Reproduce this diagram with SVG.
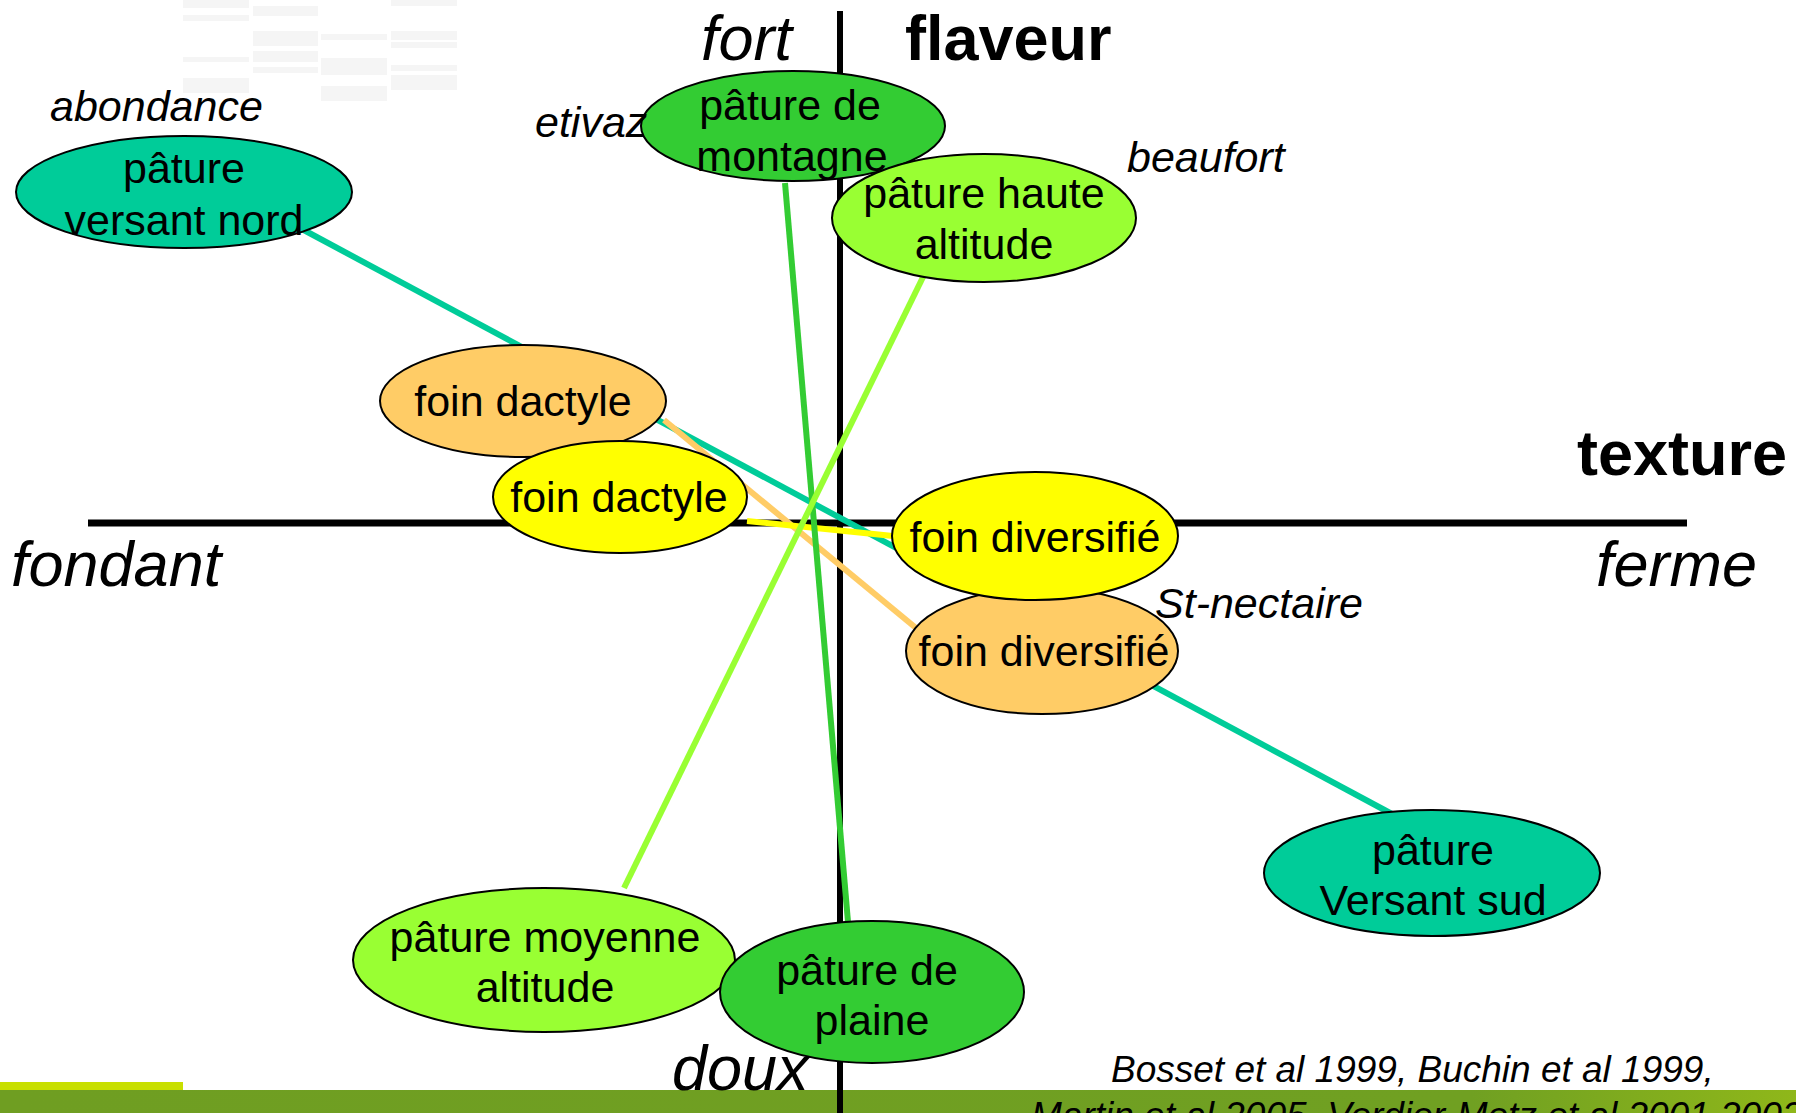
<svg xmlns="http://www.w3.org/2000/svg" width="1796" height="1113" viewBox="0 0 1796 1113">
<style>
.lbl{font-family:"Liberation Sans",Arial,sans-serif;font-size:43px;fill:#000;text-anchor:middle}
.it{font-family:"Liberation Sans",Arial,sans-serif;font-size:43px;font-style:italic;fill:#000}
.ax{font-family:"Liberation Sans",Arial,sans-serif;font-size:63px;fill:#000}
.axb{font-family:"Liberation Sans",Arial,sans-serif;font-size:63px;font-weight:bold;fill:#000}
.cite{font-family:"Liberation Sans",Arial,sans-serif;font-size:37px;font-style:italic;fill:#000}
.nd{stroke:#000;stroke-width:2}
.teal{fill:#00CC99}.green{fill:#33CC33}.lime{fill:#99FF33}.orange{fill:#FFCC66}.yellow{fill:#FFFF00}
.c{stroke-width:6;fill:none}
.grid{fill:#f5f5f5}
</style>
<defs>
<linearGradient id="band" x1="0" y1="0" x2="1" y2="0">
<stop offset="0" stop-color="#6f9e22"/>
<stop offset="0.82" stop-color="#70a022"/>
<stop offset="1" stop-color="#8fb71a"/>
</linearGradient>
</defs>
<rect width="1796" height="1113" fill="#fff"/>
<g id="faint-grid">
<rect class="grid" x="183" y="0" width="66" height="8"/>
<rect class="grid" x="183" y="15" width="66" height="6"/>
<rect class="grid" x="183" y="57" width="66" height="5"/>
<rect class="grid" x="183" y="78" width="66" height="15"/>
<rect class="grid" x="253" y="6" width="65" height="10"/>
<rect class="grid" x="253" y="31" width="65" height="15"/>
<rect class="grid" x="253" y="51" width="65" height="11"/>
<rect class="grid" x="253" y="67" width="65" height="6"/>
<rect class="grid" x="321" y="34" width="66" height="6"/>
<rect class="grid" x="321" y="58" width="66" height="17"/>
<rect class="grid" x="321" y="86" width="66" height="15"/>
<rect class="grid" x="391" y="0" width="66" height="6"/>
<rect class="grid" x="391" y="31" width="66" height="9"/>
<rect class="grid" x="391" y="42" width="66" height="6"/>
<rect class="grid" x="391" y="65" width="66" height="6"/>
<rect class="grid" x="391" y="75" width="66" height="15"/>
</g>
<g id="footer-band">
<rect x="0" y="1090" width="1796" height="23" fill="url(#band)"/>
<rect x="0" y="1082" width="183" height="8" fill="#c8df00"/>
</g>
<g id="axes">
<line x1="840" y1="11" x2="840" y2="1113" stroke="#000" stroke-width="6"/>
<line x1="88" y1="523" x2="1687" y2="523" stroke="#000" stroke-width="7"/>
</g>
<g id="connectors">
<line class="c" x1="300" y1="228" x2="1392" y2="814" stroke="#00CC99" stroke-width="7"/>
<line class="c" x1="664" y1="420" x2="916" y2="628" stroke="#FFCC66"/>
<line class="c" x1="747" y1="521" x2="893" y2="536" stroke="#FFFF00"/>
<line class="c" x1="785" y1="183" x2="848" y2="922" stroke="#33CC33"/>
<line class="c" x1="925" y1="273" x2="624" y2="888" stroke="#99FF33"/>
</g>
<g id="node-versant-nord">
<ellipse class="nd teal" cx="184" cy="192" rx="168" ry="56"/>
<text class="lbl" x="184" y="183">pâture</text>
<text class="lbl" x="184" y="235">versant nord</text>
</g>
<g id="node-montagne">
<ellipse class="nd green" cx="793" cy="126" rx="152" ry="55"/>
<text class="lbl" x="790" y="120">pâture de</text>
<text class="lbl" x="792" y="171">montagne</text>
</g>
<g id="node-haute-altitude">
<ellipse class="nd lime" cx="984" cy="218" rx="152" ry="64"/>
<text class="lbl" x="984" y="208">pâture haute</text>
<text class="lbl" x="984" y="259">altitude</text>
</g>
<g id="node-foin-dactyle-orange">
<ellipse class="nd orange" cx="523" cy="401" rx="143" ry="56"/>
<text class="lbl" x="523" y="416">foin dactyle</text>
</g>
<g id="node-foin-dactyle-yellow">
<ellipse class="nd yellow" cx="620" cy="497" rx="127" ry="56"/>
<text class="lbl" x="619" y="512">foin dactyle</text>
</g>
<g id="node-foin-diversifie-orange">
<ellipse class="nd orange" cx="1042" cy="651" rx="136" ry="63"/>
<text class="lbl" x="1044" y="666">foin diversifié</text>
</g>
<g id="node-foin-diversifie-yellow">
<ellipse class="nd yellow" cx="1035" cy="536" rx="143" ry="64"/>
<text class="lbl" x="1035" y="552">foin diversifié</text>
</g>
<g id="node-versant-sud">
<ellipse class="nd teal" cx="1432" cy="873" rx="168" ry="63"/>
<text class="lbl" x="1433" y="865">pâture</text>
<text class="lbl" x="1433" y="915">Versant sud</text>
</g>
<g id="node-moyenne-altitude">
<ellipse class="nd lime" cx="544" cy="960" rx="191" ry="72"/>
<text class="lbl" x="545" y="952">pâture moyenne</text>
<text class="lbl" x="545" y="1002">altitude</text>
</g>
<g id="node-plaine">
<ellipse class="nd green" cx="872" cy="992" rx="152" ry="71"/>
<text class="lbl" x="867" y="985">pâture de</text>
<text class="lbl" x="872" y="1035">plaine</text>
</g>
<g id="labels">
<text class="it" x="50" y="121">abondance</text>
<text class="it" x="535" y="137">etivaz</text>
<text class="it" x="1127" y="172">beaufort</text>
<text class="it" x="1155" y="618">St-nectaire</text>
<text class="ax" font-style="italic" x="701" y="60">fort</text>
<text class="axb" x="905" y="60">flaveur</text>
<text class="axb" x="1787" y="475" text-anchor="end">texture</text>
<text class="ax" font-style="italic" x="11" y="586">fondant</text>
<text class="ax" font-style="italic" x="1596" y="586">ferme</text>
<text class="ax" font-style="italic" x="672" y="1090">doux</text>
<text class="cite" x="1111" y="1082">Bosset et al 1999, Buchin et al 1999,</text>
<text class="cite" x="1031" y="1128">Martin et al 2005, Verdier-Metz et al 2001,2002</text>
</g>
</svg>
